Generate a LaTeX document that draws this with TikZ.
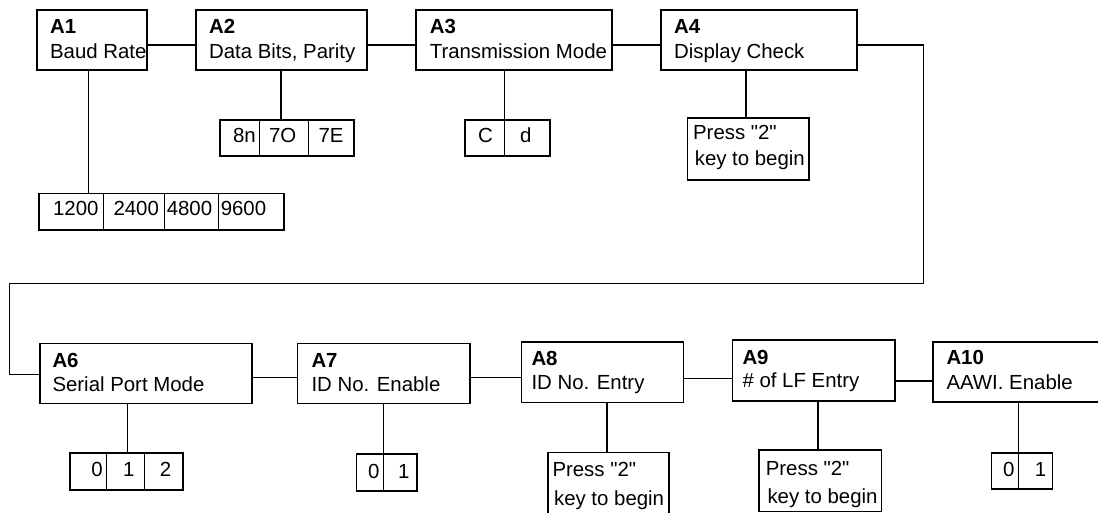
\documentclass[tikz,border=0pt]{standalone}
\usepackage{fontspec}
\setmainfont{Liberation Sans}[Ligatures=TeXOff]
\begin{document}
\begin{tikzpicture}[x=1pt,y=-1pt,line width=1.6pt,
  box/.style={draw,inner sep=0pt,anchor=north west},
  txt/.style={inner sep=0pt,anchor=base west,font=\fontsize{20.4}{24}\selectfont},
  lbl/.style={txt,font=\fontsize{20.4}{24}\selectfont\bfseries}]
\useasboundingbox (0,0) rectangle (1098,512);
% main boxes
\node[box,minimum width=110pt,minimum height=60pt] (A1) at (36,9) {};
\node[box,minimum width=171pt,minimum height=60pt] (A2) at (195,9) {};
\node[box,minimum width=196pt,minimum height=60pt] (A3) at (415,9) {};
\node[box,minimum width=196pt,minimum height=60pt] (A4) at (660,9) {};
\node[box,minimum width=212pt,minimum height=60pt] (A6) at (39,342.7) {};
\node[box,minimum width=172.3pt,minimum height=60pt] (A7) at (296.7,342.7) {};
\node[box,minimum width=162pt,minimum height=60.7pt] (A8) at (520.7,341) {};
\node[box,minimum width=162.3pt,minimum height=60.7pt] (A9) at (731.7,339.3) {};
\node[box,minimum width=180pt,minimum height=60pt] (A10) at (932.3,341) {};
% labels
\node[lbl] (A1a) at (49.3,33.3) {A1};   \node[txt] (A1b) at (49.3,58.3) {Baud Rate};
\node[lbl] (A2a) at (208.3,33.3) {A2};  \node[txt] (A2b) at (208.3,58.3) {Data Bits, Parity};
\node[lbl] (A3a) at (429,33.3) {A3};    \node[txt] (A3b) at (429,58.3) {Transmission Mode};
\node[lbl] (A4a) at (673.3,33.3) {A4};  \node[txt] (A4b) at (673.3,58.3) {Display Check};
\node[lbl] (A6a) at (51.7,367.7) {A6};  \node[txt] (A6b) at (51.7,391) {Serial Port Mode};
\node[lbl] (A7a) at (310.7,367.7) {A7}; \node[txt] (A7b) at (310.7,391) {ID No. Enable};
\node[lbl] (A8a) at (530.7,365.5) {A8}; \node[txt] (A8b) at (530.7,389.5) {ID No. Entry};
\node[lbl] (A9a) at (741.7,364.3) {A9}; \node[txt] (A9b) at (741.7,387.8) {\# of LF Entry};
\node[lbl] (A10a) at (945.7,364.8) {A10}; \node[txt] (A10b) at (945.7,389.3) {AAWI. Enable};
% option boxes
\node[box,minimum width=245pt,minimum height=36.6pt] (baud) at (38.3,192.7) {};
\draw (103.3,192.7) -- (103.3,229.3) (164.3,192.7) -- (164.3,229.3) (218.3,192.7) -- (218.3,229.3);
\node[txt] (b1) at (52.3,215) {1200};
\node[txt] (b2) at (112.7,215) {2400};
\node[txt] (b3) at (166,215) {4800};
\node[txt] (b4) at (220,215) {9600};
\node[box,minimum width=134pt,minimum height=36pt] (bits) at (219.3,119) {};
\draw (259.3,119) -- (259.3,155) (308.3,119) -- (308.3,155);
\node[txt] (d1) at (232.3,142) {8n};
\node[txt] (d2) at (268.3,142) {7O};
\node[txt] (d3) at (317.7,142) {7E};
\node[box,minimum width=85.3pt,minimum height=36pt] (mode) at (464,119) {};
\draw (504.3,119) -- (504.3,156);
\node[txt] (m1) at (477.3,142.5) {C};
\node[txt] (m2) at (519.3,142.5) {d};
\node[box,minimum width=121.6pt,minimum height=61.7pt] (P4) at (686.7,117.3) {};
\node[txt] (P4a) at (692.3,139) {Press "2"};
\node[txt] (P4b) at (694,165.7) {key to begin};
\node[box,minimum width=113.3pt,minimum height=36.7pt] (port) at (69,452.3) {};
\draw (106.3,452.3) -- (106.3,489) (144.3,452.3) -- (144.3,489);
\node[txt] (p1) at (90.5,476.7) {0};
\node[txt] (p2) at (122.3,476.7) {1};
\node[txt] (p3) at (159,476.7) {2};
\node[box,minimum width=60.3pt,minimum height=36.7pt] (idn) at (355.7,453.3) {};
\draw (383.3,453.3) -- (383.3,491);
\node[txt] (i1) at (367.3,478.3) {0};
\node[txt] (i2) at (397.3,478.3) {1};
\node[box,minimum width=121pt,minimum height=62pt] (P8) at (547.3,451.7) {};
\node[txt] (P8a) at (551.7,476.7) {Press "2"};
\node[txt] (P8b) at (553.3,505.3) {key to begin};
\node[box,minimum width=122.4pt,minimum height=61.7pt] (P9) at (758.3,449) {};
\node[txt] (P9a) at (765,475) {Press "2"};
\node[txt] (P9b) at (766.7,503.3) {key to begin};
\node[box,minimum width=61pt,minimum height=36pt] (aawi) at (990.7,452.3) {};
\draw (1018.3,452.3) -- (1018.3,490);
\node[txt] (w1) at (1002.3,476.7) {0};
\node[txt] (w2) at (1034,476.7) {1};
% horizontal connectors
\draw (A1.east |- 0,45) -- (A2.west |- 0,45);
\draw (A2.east |- 0,45) -- (A3.west |- 0,45);
\draw (A3.east |- 0,45) -- (A4.west |- 0,45);
\coordinate (w1c) at (923.3,45);
\coordinate (w2c) at (923.3,283.3);
\coordinate (w3c) at (9.3,283.3);
\coordinate (w4c) at (9.3,374.3);
\draw (A4.east |- w1c) -- (w1c) -- (w2c) -- (w3c) -- (w4c) -- (A6.west |- w4c);
\draw (A6.east |- 0,377.3) -- (A7.west |- 0,377.3);
\draw (A7.east |- 0,377.3) -- (A8.west |- 0,377.3);
\draw (A8.east |- 0,378.3) -- (A9.west |- 0,378.3);
\draw (A9.east |- 0,380.7) -- (A10.west |- 0,380.7);
% vertical connectors
\draw (A1.south -| 88.3,0) -- (baud.north -| 88.3,0);
\draw (A2.south -| 280.7,0) -- (bits.north -| 280.7,0);
\draw (A3.south -| 504.3,0) -- (mode.north -| 504.3,0);
\draw (A4.south -| 745.7,0) -- (P4.north -| 745.7,0);
\draw (A6.south -| 127.3,0) -- (port.north -| 127.3,0);
\draw (A7.south -| 383.3,0) -- (idn.north -| 383.3,0);
\draw (A8.south -| 606.7,0) -- (P8.north -| 606.7,0);
\draw (A9.south -| 817.7,0) -- (P9.north -| 817.7,0);
\draw (A10.south -| 1018.3,0) -- (aawi.north -| 1018.3,0);
\end{tikzpicture}
\end{document}
